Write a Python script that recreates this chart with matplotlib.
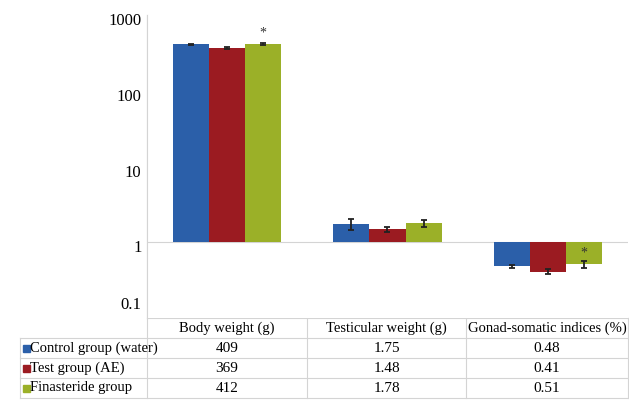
import matplotlib
matplotlib.use('Agg')
import matplotlib.pyplot as plt
import matplotlib.transforms as mtransforms
import numpy as np

plt.rcParams['font.family'] = 'Liberation Serif'
plt.rcParams['font.size'] = 10.5

categories = ['Body weight (g)', 'Testicular weight (g)', 'Gonad-somatic indices (%)']
groups = ['Control group (water)', 'Test group (AE)', 'Finasteride group']
control = [409, 1.75, 0.48]
test = [369, 1.48, 0.41]
finasteride = [412, 1.78, 0.51]
control_err = [10, 0.3, 0.02]
test_err = [8, 0.1, 0.03]
finasteride_err = [12, 0.2, 0.05]
tick_labels = ['0.1', '1', '10', '100', '1000']
colors = ['#2b5fa9', '#9b1b21', '#9bb028']
grid_col = '#d4d4d4'

W, H = 629, 400
fig = plt.figure(figsize=(W / 100, H / 100), dpi=100)

def fx(px):
    return px / W

def fy(py):
    return 1 - py / H

ax = fig.add_axes([fx(147), fy(318), fx(628) - fx(147), fy(15) - fy(318)])
ax.set_yscale('log')
ax.set_ylim(0.1, 1000)
ax.set_xlim(-0.5, 2.5)

x = np.arange(len(categories))
width = 0.225
series = [control, test, finasteride]
errs = [control_err, test_err, finasteride_err]
for i, (vals, err) in enumerate(zip(series, errs)):
    vals = np.array(vals)
    xs = x + (i - 1) * width
    # bars grow away from the crossing at 1
    ax.bar(xs, vals - 1, bottom=1, width=width, color=colors[i], zorder=2)
    ax.errorbar(xs, vals, yerr=err, fmt='none', ecolor='#222222',
                elinewidth=1.3, capsize=2.5, capthick=1.3, zorder=3)

ax.axhline(1, color=grid_col, lw=0.8, zorder=1)

# significance marks
ax.annotate('*', (x[0] + width, finasteride[0] + finasteride_err[0]),
            xytext=(0, 3), textcoords='offset points', ha='center', va='bottom',
            fontsize=10, color='#333333')
ax.annotate('*', (x[2] + width, 1), xytext=(0, -3), textcoords='offset points',
            ha='center', va='top', fontsize=10, color='#333333')

ax.set_yticks([0.1, 1, 10, 100, 1000])
ax.set_yticklabels(tick_labels)
ax.yaxis.set_minor_locator(matplotlib.ticker.NullLocator())
ax.tick_params(axis='y', length=0, pad=4, labelsize=12)
down = mtransforms.ScaledTranslation(0, -3 / 72, fig.dpi_scale_trans)
for lbl in ax.get_yticklabels():
    lbl.set_transform(lbl.get_transform() + down)
# lift the lowest label clear of the table
lift = mtransforms.ScaledTranslation(0, 14 / 72, fig.dpi_scale_trans)
low = ax.get_yticklabels()[0]
low.set_transform(low.get_transform() + lift)
ax.set_xticks([])
for s in ['top', 'right', 'bottom']:
    ax.spines[s].set_visible(False)
ax.spines['left'].set_color(grid_col)

# data table underneath the chart
tab = fig.add_axes([0, 0, 1, 1], zorder=-1)
tab.set_xlim(0, W)
tab.set_ylim(H, 0)
tab.axis('off')
cols = [147, 307, 466, 628]
rows = [318, 338, 358, 378, 398]
tab.plot([147, 147], [15, rows[-1]], color=grid_col, lw=0.8)
tab.plot([cols[0], cols[-1]], [rows[0], rows[0]], color=grid_col, lw=0.8)
for r in rows[1:]:
    tab.plot([20, cols[-1]], [r, r], color=grid_col, lw=0.8)
for c in cols[1:]:
    tab.plot([c, c], [rows[0], rows[-1]], color=grid_col, lw=0.8)
tab.plot([20, 20], [rows[1], rows[-1]], color=grid_col, lw=0.8)

for j, cat in enumerate(categories):
    cx = (cols[j] + cols[j + 1]) / 2
    tab.text(cx, (rows[0] + rows[1]) / 2, cat, ha='center', va='center', fontsize=10.5)
    for i, vals in enumerate(series):
        tab.text(cx, (rows[i + 1] + rows[i + 2]) / 2, f'{vals[j]:g}',
                 ha='center', va='center', fontsize=11)

for i, g in enumerate(groups):
    cy = (rows[i + 1] + rows[i + 2]) / 2
    tab.add_patch(plt.Rectangle((23, cy - 3.5), 7, 7, color=colors[i]))
    tab.text(30.5, cy, g, ha='left', va='center', fontsize=10.5)

fig.savefig('out.png', dpi=100)
